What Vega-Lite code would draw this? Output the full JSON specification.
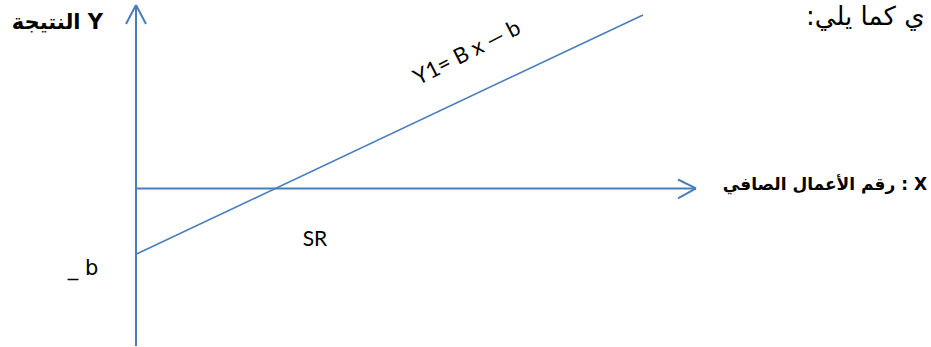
{
  "$schema": "https://vega.github.io/schema/vega-lite/v6.json",
  "width": 931,
  "height": 347,
  "autosize": {"type": "fit", "contains": "padding"},
  "padding": 0,
  "background": "white",
  "config": {"view": {"stroke": null}},
  "datasets": {
    "axes": [
      {"part": "y-axis", "x1": 0, "y1": -158, "x2": 0, "y2": 184},
      {"part": "y-arrow-left", "x1": 0, "y1": 184, "x2": -10, "y2": 165},
      {"part": "y-arrow-right", "x1": 0, "y1": 184, "x2": 10, "y2": 165},
      {"part": "x-axis", "x1": 0, "y1": 0, "x2": 560, "y2": 0},
      {"part": "x-arrow-up", "x1": 560, "y1": 0, "x2": 542, "y2": 9},
      {"part": "x-arrow-down", "x1": 560, "y1": 0, "x2": 542, "y2": -10}
    ],
    "line": [
      {"part": "Y1", "x1": 0, "y1": -66, "x2": 507, "y2": 174}
    ]
  },
  "encoding": {
    "x": {"field": "x1", "type": "quantitative", "scale": {"domain": [-136, 795], "nice": false, "zero": false}, "axis": null},
    "y": {"field": "y1", "type": "quantitative", "scale": {"domain": [-158, 189], "nice": false, "zero": false}, "axis": null}
  },
  "layer": [
    {
      "data": {"name": "axes"},
      "mark": {"type": "rule", "color": "#4a7ebb", "strokeWidth": 2},
      "encoding": {"x2": {"field": "x2"}, "y2": {"field": "y2"}}
    },
    {
      "data": {"name": "line"},
      "mark": {"type": "rule", "color": "#4a7ebb", "strokeWidth": 1.6},
      "encoding": {"x2": {"field": "x2"}, "y2": {"field": "y2"}}
    },
    {
      "data": {"values": [{"label": "النتيجة Y", "x1": -33, "y1": 166}]},
      "mark": {"type": "text", "align": "right", "baseline": "middle", "font": "DejaVu Sans", "fontWeight": "bold", "fontSize": 21, "color": "black"},
      "encoding": {"text": {"field": "label"}}
    },
    {
      "data": {"values": [{"label": "رقم الأعمال الصافي : X", "x1": 791, "y1": 3}]},
      "mark": {"type": "text", "align": "right", "baseline": "middle", "font": "DejaVu Sans", "fontWeight": "bold", "fontSize": 17, "color": "black"},
      "encoding": {"text": {"field": "label"}}
    },
    {
      "data": {"values": [{"label": ":ي كما يلي", "x1": 670, "y1": 164}]},
      "mark": {"type": "text", "align": "left", "baseline": "alphabetic", "font": "DejaVu Sans", "fontSize": 26, "color": "black"},
      "encoding": {"text": {"field": "label"}}
    },
    {
      "data": {"values": [{"label": "Y1= B x — b", "x1": 331, "y1": 136}]},
      "mark": {"type": "text", "align": "center", "baseline": "middle", "angle": -27, "font": "Lato", "fontSize": 22, "color": "black"},
      "encoding": {"text": {"field": "label"}}
    },
    {
      "data": {"values": [{"label": "SR", "x1": 179, "y1": -52}]},
      "mark": {"type": "text", "align": "center", "baseline": "middle", "font": "Lato", "fontSize": 21, "color": "black"},
      "encoding": {"text": {"field": "label"}}
    },
    {
      "data": {"values": [{"label": "_ b", "x1": -53, "y1": -81}]},
      "mark": {"type": "text", "align": "center", "baseline": "middle", "font": "DejaVu Sans", "fontSize": 21, "color": "black"},
      "encoding": {"text": {"field": "label"}}
    }
  ]
}
